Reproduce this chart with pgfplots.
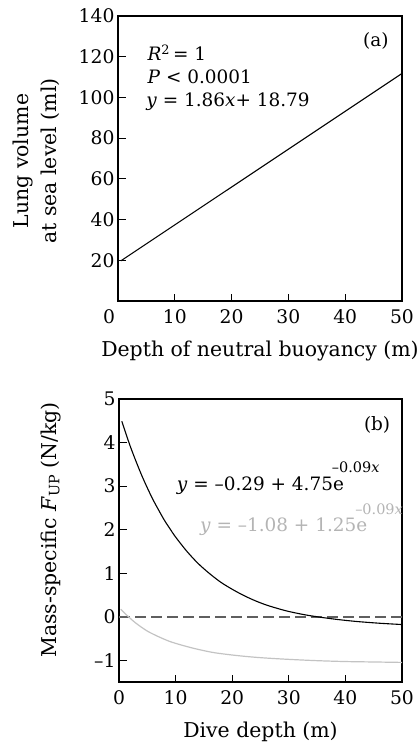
\documentclass[border=0pt]{standalone}
\usepackage{fontspec}
\setmainfont{DejaVu Serif}
\usepackage{pgfplots}
\pgfplotsset{compat=1.18}
\definecolor{curvegray}{RGB}{195,195,195}
\definecolor{textgray}{RGB}{180,180,180}
\definecolor{dashgray}{RGB}{95,95,95}
\pgfplotsset{
  panel/.style={
    scale only axis,
    anchor=north west,
    clip=false,
    axis line style={line width=1.1bp},
    every tick/.style={black, line width=1.1bp},
    tick align=inside,
    major tick length=7.5bp,
    xtick pos=bottom, ytick pos=left,
    xmin=0, xmax=50,
    /pgf/number format/assume math mode=true,
    tick label style={font=\fontsize{18.8}{20}\selectfont},
    label style={font=\fontsize{20.5}{28}\selectfont},
    xticklabel style={yshift=-5bp},
  }
}
\newcommand{\ann}{\fontsize{18.5}{20}\selectfont}
\begin{document}
\begin{tikzpicture}
\begin{axis}[panel, at={(118bp,-16bp)}, width=284bp, height=285bp,
  ymin=0, ymax=140, ytick={20,40,...,140},
  xtick={10,20,...,50}, extra x ticks={0},
  extra x tick style={xticklabel style={xshift=-9bp}},
  ylabel={Lung volume\\at sea level (ml)},
  ylabel style={align=center, at={(axis description cs:-0.289,0.491)}, anchor=center},
  xlabel={Depth of neutral buoyancy (m)},
  xlabel style={at={(axis description cs:0.5,-0.195)}, anchor=base},
]
\addplot[black, line width=1.1bp] coordinates {(0.5,19.72) (50,111.79)};
\node[anchor=base west, inner sep=0pt, font=\ann] at (axis cs:5.16,118.0) {\textit{R}\textsuperscript{2}\,= 1};
\node[anchor=base west, inner sep=0pt, font=\ann] at (axis cs:5.16,106.6) {\textit{P} < 0.0001};
\node[anchor=base west, inner sep=0pt, font=\ann] at (axis cs:4.96,95.4) {\textit{y} = 1.86\textit{x}+ 18.79};
\node[anchor=base, inner sep=0pt, font=\ann] at (axis cs:45.4,124.9) {(a)};
\end{axis}
\begin{axis}[panel, at={(119bp,-399bp)}, width=283bp, height=283bp,
  ymin=-1.5, ymax=5, ytick={-1,0,...,5}, yticklabels={–1,0,1,2,3,4,5},
  xtick={0,10,...,50},
  ylabel={Mass-specific \textit{F}\textsubscript{UP} (N/kg)},
  ylabel style={at={(axis description cs:-0.2226,0.537)}, anchor=base},
  xlabel={Dive depth (m)},
  xlabel style={at={(axis description cs:0.5,-0.197)}, anchor=base},
]
\addplot[dashgray, line width=1.7bp, dash pattern=on 11bp off 5bp] coordinates {(0,0) (50,0)};
\addplot[curvegray, line width=1.2bp, smooth] coordinates {
(0.3,0.17) (1.5,0.02) (3,-0.15) (5,-0.33) (7,-0.46) (9,-0.57) (11,-0.65) (13,-0.72)
(15,-0.78) (17,-0.83) (20,-0.88) (23,-0.92) (26,-0.95) (30,-0.98) (35,-1.01)
(40,-1.03) (45,-1.04) (50,-1.05)};
\addplot[black, line width=1.1bp, smooth] coordinates {
(0.5,4.49) (1,4.29) (2,3.91) (3,3.57) (4,3.25) (5,2.96) (6,2.69) (7,2.45) (8,2.22)
(9,2.02) (10,1.83) (12,1.50) (14,1.22) (16,0.99) (18,0.79) (20,0.63) (22,0.49)
(24,0.37) (26,0.27) (28,0.19) (30,0.12) (33,0.04) (36,-0.02) (39,-0.07) (42,-0.11)
(46,-0.15) (50,-0.18)};
\node[anchor=base, inner sep=0pt, font=\ann] at (axis cs:45.6,4.275) {(b)};
\node[anchor=base west, inner sep=0pt, font=\ann] at (axis cs:10.18,2.90)
  {\textit{y} = –0.29 + 4.75e\kern-12bp\raisebox{17.5bp}{\fontsize{14.5}{14}\selectfont –0.09\textit{x}}};
\node[anchor=base west, inner sep=0pt, font=\ann, text=textgray] at (axis cs:14.3,1.946)
  {\textit{y} = –1.08 + 1.25e\kern-12bp\raisebox{17.5bp}{\fontsize{14.5}{14}\selectfont –0.09\textit{x}}};
\end{axis}
\pgfresetboundingbox
\path[use as bounding box] (0,0) rectangle (418bp,-742bp);
\end{tikzpicture}
\end{document}
